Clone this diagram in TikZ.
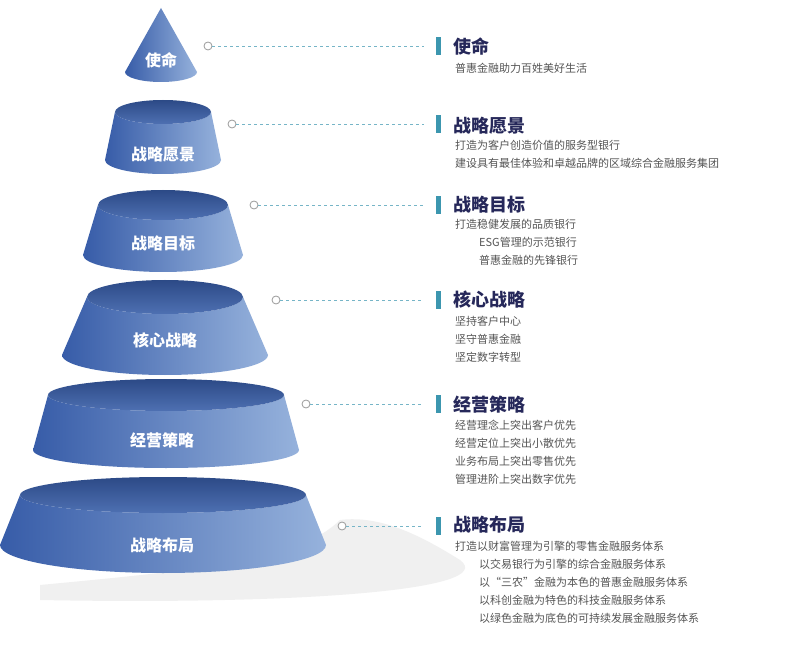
\documentclass[tikz,border=0pt]{standalone}
\usepackage{fontspec}
\setmainfont{Noto Sans CJK SC}
\begin{document}
\begin{tikzpicture}[x=1pt,y=-1pt,
  lbl/.style={text=white,font=\fontsize{16}{18}\selectfont\bfseries},
  head/.style={anchor=west,text=headc,font=\fontsize{18}{20}\selectfont\bfseries},
  body/.style={anchor=north west,text=bodyc,font=\fontsize{11}{18}\selectfont,align=left,inner sep=0pt},
  dot/.style={circle,draw=gray!80,fill=white,inner sep=0pt,minimum size=8pt,line width=0.8pt},
  conn/.style={dashed,draw=tealc!70,line width=0.6pt,dash pattern=on 3pt off 3pt},
  bar/.style={fill=tealc,draw=none}]
\definecolor{headc}{RGB}{38,40,90}
\definecolor{bodyc}{RGB}{85,85,85}
\definecolor{tealc}{RGB}{60,150,175}
\definecolor{bl}{RGB}{55,92,168}
\definecolor{bm}{RGB}{72,112,182}
\definecolor{br}{RGB}{150,178,220}
\definecolor{tp}{RGB}{78,112,178}
\useasboundingbox (0,0) rectangle (785,647);
\fill[white] (0,0) rectangle (785,647);
% faint ground
\fill[gray!12] (40,585) .. controls (200,570) and (300,560) .. (340,520) .. controls (380,515) and (420,535) .. (460,560) .. controls (500,590) and (300,605) .. (40,600) -- cycle;
\newcommand{\frus}[8]{% cx, ytop, rt, ryt, ybot, rb, ryb, label y
  \shade[left color=bl,middle color=bm,right color=br]
    (#1-#3,#2) -- (#1-#6,#5) arc[start angle=180,end angle=0,x radius=#6,y radius=#7]
    -- (#1+#3,#2) arc[start angle=0,end angle=180,x radius=#3,y radius=#4] -- cycle;
  \shade[top color=bl!80!black,bottom color=tp] (#1,#2) ellipse[x radius=#3,y radius=#4];
}
% cone
\shade[left color=bl,middle color=bm,right color=br]
  (161,8) -- (197,72) arc[start angle=0,end angle=180,x radius=36,y radius=10] -- cycle;
\node[lbl] (n1) at (161,60) {使命};
\frus{163}{112}{48}{12}{160}{58}{14}{155}
\node[lbl] (n2) at (163,155) {战略愿景};
\frus{163}{205}{65}{15}{255}{80}{17}{243}
\node[lbl] (n3) at (163,243) {战略目标};
\frus{165}{297}{78}{17}{355}{103}{20}{340}
\node[lbl] (n4) at (165,340) {核心战略};
\frus{166}{395}{118}{16}{450}{133}{18}{440}
\node[lbl] (n5) at (162,440) {经营策略};
\frus{163}{495}{143}{18}{545}{163}{28}{545}
\node[lbl] (n6) at (162,545) {战略布局};
% connectors
\foreach \i/\x/\y in {1/208/46,2/232/124,3/254/205,4/276/300,5/306/404,6/342/526}{
  \node[dot] (d\i) at (\x,\y) {};
  \coordinate (e\i) at (424,\y);
  \draw[conn] (d\i) -- (e\i);
  \fill[bar] (436,\y-9) rectangle (441,\y+9);
}
\node[head] (h1) at (450,47) {使命};
\node[head] (h2) at (450,126) {战略愿景};
\node[head] (h3) at (450,205) {战略目标};
\node[head] (h4) at (450,300) {核心战略};
\node[head] (h5) at (450,405) {经营策略};
\node[head] (h6) at (450,525) {战略布局};
\node[body] (b1) at (455,63) {普惠金融助力百姓美好生活};
\node[body] (b2) at (455,140) {打造为客户创造价值的服务型银行\\建设具有最佳体验和卓越品牌的区域综合金融服务集团};
\node[body] (b3) at (455,219) {打造稳健发展的品质银行\\\hspace{24pt}ESG管理的示范银行\\\hspace{24pt}普惠金融的先锋银行};
\node[body] (b4) at (455,316) {坚持客户中心\\坚守普惠金融\\坚定数字转型};
\node[body] (b5) at (455,420) {经营理念上突出客户优先\\经营定位上突出小散优先\\业务布局上突出零售优先\\管理进阶上突出数字优先};
\node[body] (b6) at (455,541) {打造以财富管理为引擎的零售金融服务体系\\\hspace{24pt}以交易银行为引擎的综合金融服务体系\\\hspace{24pt}以“三农”金融为本色的普惠金融服务体系\\\hspace{24pt}以科创金融为特色的科技金融服务体系\\\hspace{24pt}以绿色金融为底色的可持续发展金融服务体系};
\end{tikzpicture}
\end{document}
